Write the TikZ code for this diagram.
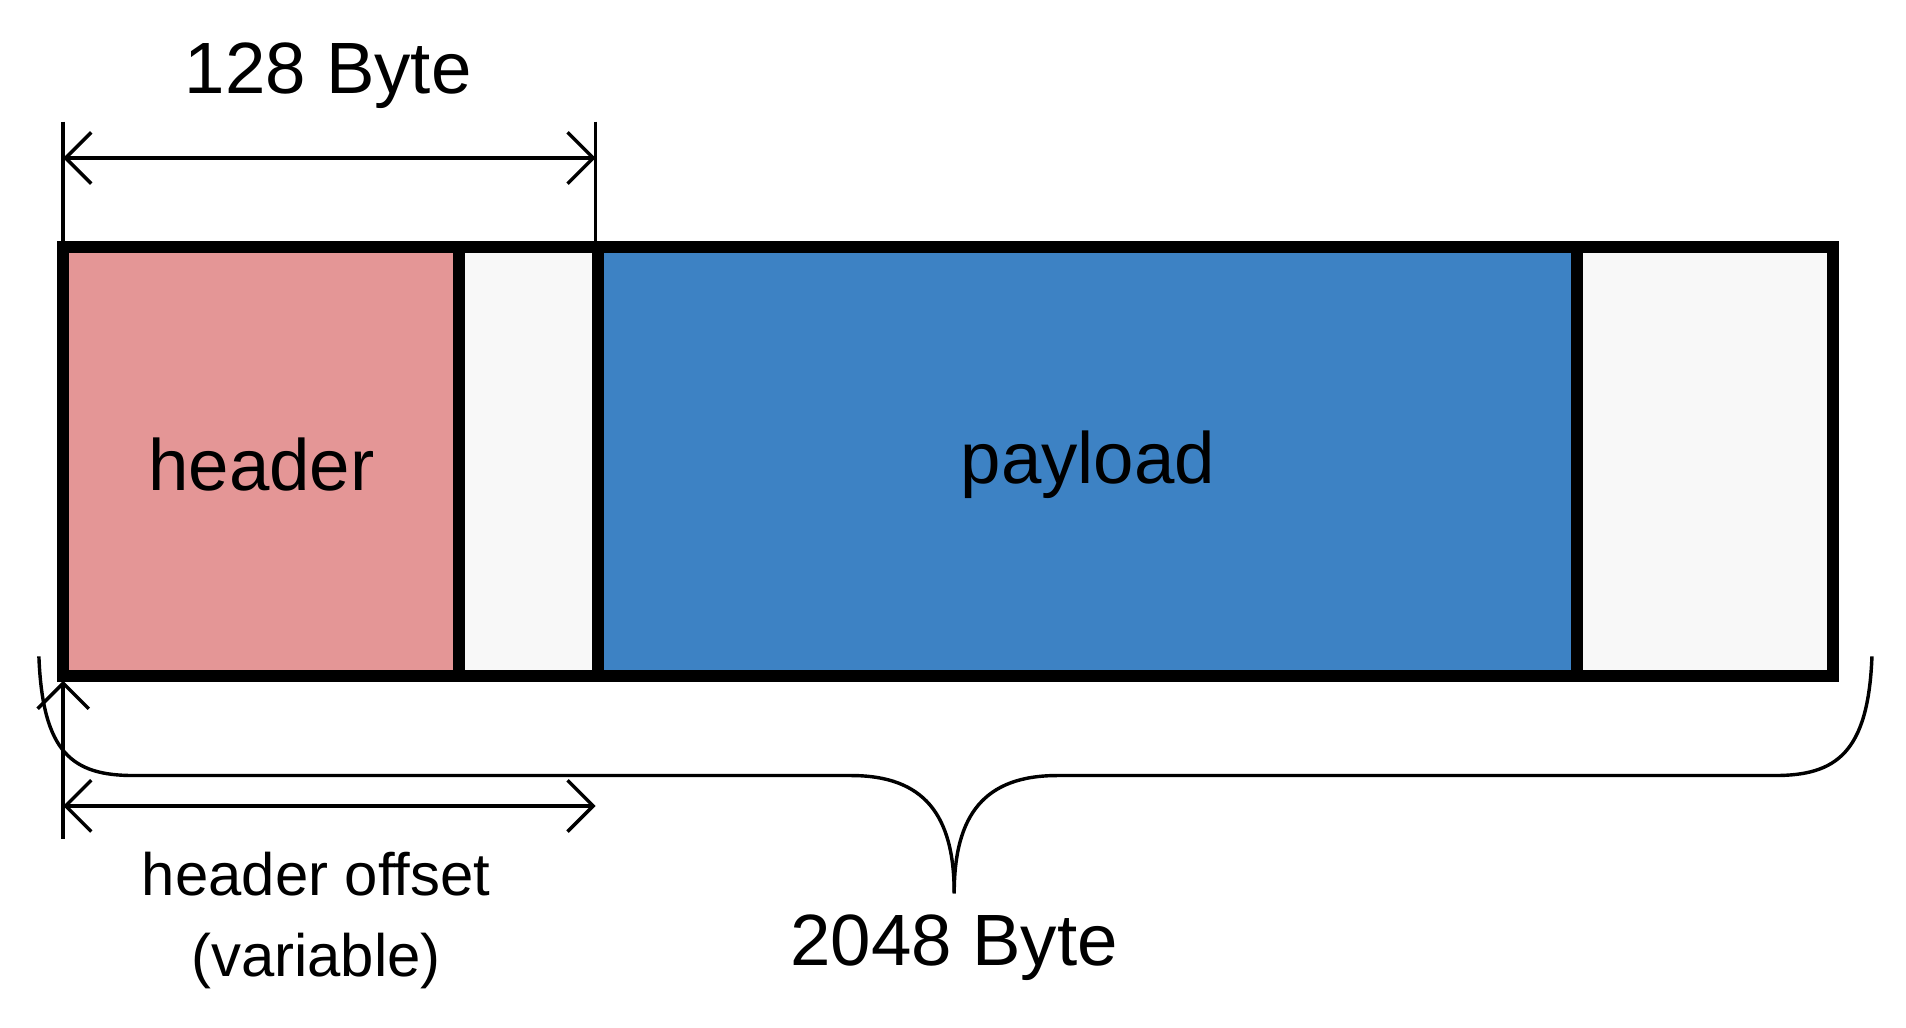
\documentclass[tikz,border=0pt]{standalone}
\usepackage{fontspec}
\setmainfont{Liberation Sans}
\usetikzlibrary{arrows.meta}
\definecolor{hpink}{HTML}{E49696}
\definecolor{pblue}{HTML}{3D82C4}
\definecolor{ewhite}{HTML}{F8F8F8}
\begin{document}
\begin{tikzpicture}[x=0.01cm,y=-0.01cm,
  cell/.style={draw=black,line width=2.8pt,inner sep=0pt},
  dim/.style={line width=0.8pt,{Straight Barb[length=6pt]}-{Straight Barb[length=6pt]}},
  lbl/.style={font=\fontsize{17}{20}\selectfont},
  slbl/.style={font=\fontsize{14}{17}\selectfont,align=center}]
\useasboundingbox (0,0) rectangle (1568,845);
\fill[hpink] (52,203) rectangle (378,556);
\fill[ewhite] (378,203) rectangle (492,556);
\fill[pblue] (492,203) rectangle (1297,556);
\fill[ewhite] (1297,203) rectangle (1508,556);
\draw[line width=2.8pt] (52,203) rectangle (1508,556);
\draw[line width=2.8pt] (378,203) -- (378,556) (492,203) -- (492,556) (1297,203) -- (1297,556);
\node[lbl] (hdr) at (215,382) {header};
\node[lbl] (pl) at (895,382) {payload};
% top dimension
\coordinate (t1) at (52,100); \coordinate (t1b) at (52,200);
\coordinate (t2) at (490,100); \coordinate (t2b) at (490,200);
\draw[line width=0.8pt] (t1) -- (t1b) (t2) -- (t2b);
\coordinate (ta) at (52,130); \coordinate (tb) at (490,130);
\draw[dim] (ta) -- (tb);
\node[lbl] (b128) at (270,62) {128 Byte};
% bottom dimension
\coordinate (v1) at (52,560); \coordinate (v2) at (52,690);
\draw[line width=0.8pt,{Straight Barb[length=6pt]}-] (v1) -- (v2);
\coordinate (ba) at (52,663); \coordinate (bb) at (490,663);
\draw[dim] (ba) -- (bb);
\node[slbl] (ho) at (260,757) {header offset\\[2pt](variable)};
% brace
\draw[line width=0.8pt] (32,540) .. controls (35,620) and (60,638) .. (110,638)
  -- (700,638) .. controls (760,638) and (785,670) .. (785,735);
\draw[line width=0.8pt] (1540,540) .. controls (1537,620) and (1510,638) .. (1460,638)
  -- (870,638) .. controls (810,638) and (785,670) .. (785,735);
\node[lbl] (b2048) at (785,780) {2048 Byte};
\end{tikzpicture}
\end{document}
